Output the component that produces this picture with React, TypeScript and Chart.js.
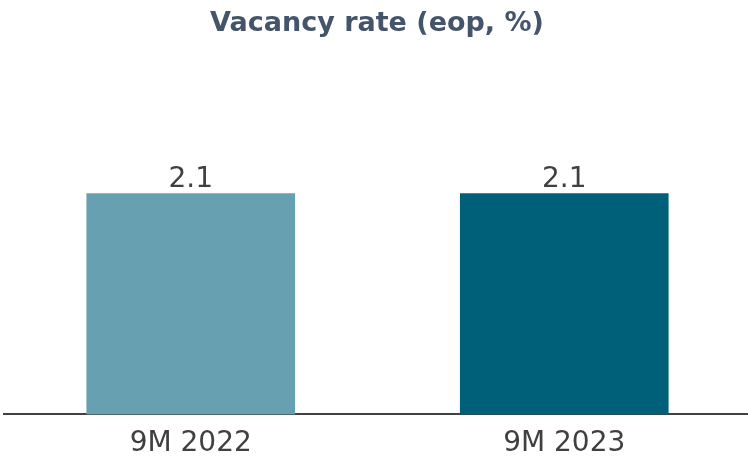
import React, { useEffect, useRef } from "react";
import { Chart, registerables } from "chart.js";

Chart.register(...registerables);

const categories = ["9M 2022", "9M 2023"];
const values = [2.1, 2.1];
const barColors = ["#67A0B1", "#005F79"];
const titleText = "Vacancy rate (eop, %)";

const W = 751;
const H = 474;

export default function App() {
  const ref = useRef<HTMLCanvasElement | null>(null);
  useEffect(() => {
    if (!ref.current) return;
    const overlay = {
      id: "overlay",
      afterDatasetsDraw(chart: any) {
        const ctx = chart.ctx;
        ctx.save();
        ctx.fillStyle = "#44546A";
        ctx.font = "bold 27px 'DejaVu Sans'";
        ctx.textAlign = "center";
        ctx.textBaseline = "alphabetic";
        ctx.fillText(titleText, 377, 31);
        const meta = chart.getDatasetMeta(0);
        ctx.fillStyle = "#404040";
        ctx.font = "28px 'DejaVu Sans'";
        meta.data.forEach((bar: any, i: number) => {
          ctx.fillText(values[i].toFixed(1), bar.x, bar.y - 7);
        });
        ctx.restore();
      },
    };
    const chart = new Chart(ref.current, {
      type: "bar",
      data: {
        labels: categories,
        datasets: [
          {
            data: values,
            backgroundColor: barColors,
            barThickness: 208,
          },
        ],
      },
      options: {
        animation: false,
        responsive: false,
        maintainAspectRatio: false,
        layout: { padding: { top: 99, left: 4, right: 0, bottom: 0 } },
        plugins: { legend: { display: false }, tooltip: { enabled: false }, title: { display: false } },
        scales: {
          x: {
            grid: { display: false, drawTicks: false },
            border: { display: true, color: "#404040", width: 2 },
            ticks: { color: "#404040", font: { family: "'DejaVu Sans'", size: 28 }, padding: 13 },
          },
          y: { display: false, min: 0, max: 3 },
        },
      },
      plugins: [overlay],
    });
    return () => chart.destroy();
  }, []);
  return (
    <div style={{ position: "fixed", left: 0, top: 0, width: 748, height: 459, overflow: "hidden", background: "#fff" }}>
      <canvas ref={ref} width={W} height={H} style={{ width: W, height: H, display: "block" }} />
    </div>
  );
}
